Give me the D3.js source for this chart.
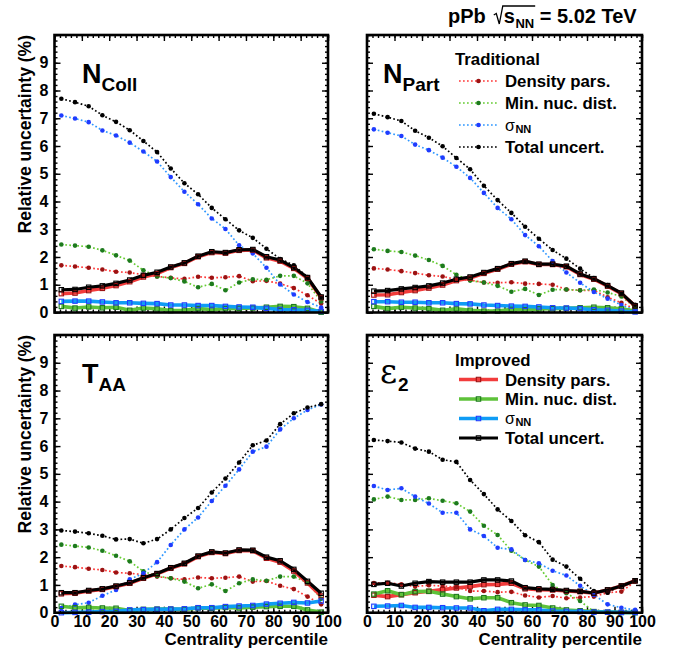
<!DOCTYPE html>
<html><head><meta charset="utf-8">
<script src="https://cdn.jsdelivr.net/npm/d3@7"></script>
<style>body{margin:0;background:#fff}svg{display:block}</style>
</head><body>
<svg id="c" width="681" height="650"></svg>
<script>
// ---------------- data ----------------
const centrality = [2.5,7.5,12.5,17.5,22.5,27.5,32.5,37.5,42.5,47.5,52.5,57.5,62.5,67.5,72.5,77.5,82.5,87.5,92.5,97.5];
const xTickValues = [0,10,20,30,40,50,60,70,80,90,100];
const yTickValues = [0,1,2,3,4,5,6,7,8,9,10];
const yTickLabels = ["0","1","2","3","4","5","6","7","8","9",""];

// N_Coll
const ncollTradDensity = [1.70,1.66,1.61,1.55,1.47,1.44,1.36,1.30,1.25,1.21,1.29,1.25,1.27,1.31,1.13,1.14,1.04,0.88,0.62,0.32];
const ncollTradMinNuc  = [2.45,2.41,2.37,2.24,2.06,1.87,1.52,1.30,1.24,1.12,0.91,1.03,0.80,1.08,1.20,1.18,1.32,1.32,1.05,0.40];
const ncollTradSigma   = [7.10,6.99,6.86,6.56,6.38,6.12,5.80,5.44,4.88,4.35,3.90,3.39,3.01,2.42,2.13,1.61,1.01,0.65,0.38,0.18];
const ncollTradTotal   = [7.70,7.58,7.43,7.11,6.87,6.57,6.18,5.78,5.19,4.66,4.26,3.77,3.36,2.96,2.69,2.30,1.93,1.70,1.28,0.56];
const ncollImpDensity  = [0.68,0.70,0.79,0.87,0.97,1.11,1.28,1.40,1.62,1.77,2.01,2.16,2.14,2.24,2.25,1.97,1.85,1.59,1.23,0.53];
const ncollImpMinNuc   = [0.22,0.16,0.20,0.17,0.19,0.08,0.16,0.13,0.07,0.08,0.14,0.11,0.14,0.15,0.16,0.19,0.22,0.21,0.15,0.01];
const ncollImpSigma    = [0.40,0.41,0.41,0.38,0.35,0.35,0.33,0.32,0.27,0.27,0.25,0.25,0.22,0.20,0.19,0.15,0.11,0.10,0.08,0.04];
const ncollImpTotal    = [0.82,0.83,0.91,0.96,1.05,1.17,1.34,1.45,1.64,1.79,2.03,2.19,2.16,2.26,2.27,2.01,1.89,1.62,1.26,0.56];

// N_Part
const npartTradDensity = [1.59,1.55,1.49,1.42,1.34,1.30,1.19,1.17,1.08,1.07,1.09,1.04,1.03,1.00,0.83,0.80,0.80,0.55,0.35,0.12];
const npartTradMinNuc  = [2.28,2.22,2.18,2.05,1.89,1.68,1.36,1.15,1.08,0.96,0.75,0.85,0.63,0.82,0.83,0.80,0.83,0.72,0.58,0.18];
const npartTradSigma   = [6.60,6.48,6.36,6.05,5.85,5.58,5.25,4.85,4.31,3.77,3.36,2.79,2.39,1.85,1.44,1.07,0.74,0.50,0.27,0.07];
const npartTradTotal   = [7.16,7.04,6.90,6.55,6.30,5.99,5.57,5.16,4.57,4.05,3.59,3.09,2.66,2.25,1.94,1.58,1.24,0.99,0.69,0.28];
const npartImpDensity  = [0.63,0.64,0.72,0.79,0.88,0.99,1.15,1.24,1.41,1.56,1.74,1.83,1.73,1.73,1.65,1.37,1.20,0.95,0.68,0.23];
const npartImpMinNuc   = [0.22,0.14,0.19,0.16,0.14,0.08,0.13,0.08,0.05,0.05,0.11,0.10,0.13,0.14,0.15,0.17,0.19,0.17,0.13,0.05];
const npartImpSigma    = [0.39,0.39,0.37,0.37,0.35,0.35,0.32,0.31,0.27,0.25,0.23,0.22,0.20,0.17,0.16,0.14,0.10,0.08,0.05,0.02];
const npartImpTotal    = [0.77,0.79,0.85,0.90,0.96,1.06,1.20,1.28,1.44,1.58,1.76,1.85,1.74,1.74,1.67,1.39,1.22,0.97,0.70,0.24];

// T_AA
const taaTradDensity = [1.68,1.64,1.58,1.54,1.45,1.42,1.37,1.30,1.24,1.20,1.27,1.24,1.26,1.30,1.12,1.14,0.97,0.85,0.58,0.30];
const taaTradMinNuc  = [2.45,2.40,2.35,2.23,2.05,1.85,1.49,1.32,1.24,1.12,0.88,1.02,0.78,1.06,1.20,1.15,1.30,1.30,1.08,0.50];
const taaTradSigma   = [0.17,0.29,0.36,0.61,0.82,1.20,1.42,1.82,2.44,3.00,3.43,4.02,4.57,5.16,5.80,5.98,6.60,7.00,7.30,7.50];
const taaTradTotal   = [2.96,2.92,2.86,2.77,2.64,2.65,2.50,2.65,3.00,3.41,3.77,4.33,4.83,5.41,6.03,6.20,6.79,7.18,7.39,7.51];
const taaImpDensity  = [0.68,0.70,0.78,0.84,0.94,1.06,1.24,1.40,1.60,1.76,2.02,2.17,2.13,2.24,2.23,1.96,1.82,1.50,1.07,0.60];
const taaImpMinNuc   = [0.23,0.18,0.19,0.17,0.16,0.08,0.12,0.13,0.13,0.12,0.17,0.16,0.19,0.17,0.20,0.22,0.23,0.23,0.10,0.02];
const taaImpSigma    = [0.00,0.01,0.02,0.04,0.05,0.10,0.11,0.12,0.13,0.14,0.18,0.18,0.22,0.24,0.26,0.31,0.34,0.37,0.35,0.42];
const taaImpTotal    = [0.72,0.72,0.80,0.86,0.96,1.08,1.26,1.41,1.62,1.78,2.04,2.19,2.15,2.26,2.25,2.00,1.87,1.56,1.13,0.70];

// epsilon_2
const epsTradDensity = [1.07,1.08,1.02,0.94,0.99,0.96,0.92,0.78,0.78,0.74,0.75,0.62,0.55,0.60,0.52,0.55,0.58,0.72,0.76,1.12];
const epsTradMinNuc  = [4.08,4.18,4.06,4.06,4.12,4.03,3.94,3.64,3.13,2.80,2.23,1.90,1.66,1.00,0.70,0.42,0.04,0.01,0.00,0.00];
const epsTradSigma   = [4.56,4.42,4.48,4.18,3.93,3.60,3.60,3.00,2.76,2.34,2.28,1.90,1.78,1.51,1.34,0.97,0.64,0.30,0.18,0.10];
const epsTradTotal   = [6.22,6.18,6.13,5.91,5.80,5.51,5.43,4.78,4.27,3.72,3.30,2.79,2.54,1.91,1.66,1.22,0.78,0.72,0.98,1.14];
const epsImpDensity  = [0.63,0.58,0.65,0.72,0.77,0.83,0.89,0.94,1.01,1.02,1.06,0.86,0.83,0.82,0.78,0.76,0.70,0.82,0.96,1.15];
const epsImpMinNuc   = [0.67,0.79,0.65,0.76,0.77,0.67,0.58,0.50,0.54,0.54,0.36,0.28,0.26,0.17,0.10,0.07,0.04,0.02,0.01,0.00];
const epsImpSigma    = [0.23,0.24,0.26,0.19,0.19,0.18,0.17,0.17,0.07,0.12,0.12,0.10,0.10,0.06,0.05,0.04,0.02,0.02,0.01,0.01];
const epsImpTotal    = [1.02,1.06,0.96,1.06,1.12,1.10,1.10,1.10,1.18,1.18,1.14,0.90,0.86,0.84,0.80,0.77,0.71,0.82,0.96,1.15];

const sourceNames = ["Density pars.","Min. nuc. dist.","σNN","Total uncert."];

// ---------------- styling / layout ----------------
const FONT = '"Liberation Sans", Arial, Helvetica, sans-serif';
const colors = {
  tradLine: ["#ff3838","#66cc33","#2f97ff","#000000"],
  impLine:  ["#f23c3c","#5ec23a","#0f9cf5","#000000"],
  mark:     ["#9c1212","#1d7a1d","#1f3cff","#000000"]
};

const panels = [
  {x0:54.5,x1:328,y0:35,y1:312.5,yLab:true,xLab:false,
   trad:[ncollTradDensity,ncollTradMinNuc,ncollTradSigma,ncollTradTotal],
   imp:[ncollImpDensity,ncollImpMinNuc,ncollImpSigma,ncollImpTotal],
   label:{main:"N",sub:"Coll",serif:false,dx:27.5}},
  {x0:367,x1:642,y0:35,y1:312.5,yLab:false,xLab:false,
   trad:[npartTradDensity,npartTradMinNuc,npartTradSigma,npartTradTotal],
   imp:[npartImpDensity,npartImpMinNuc,npartImpSigma,npartImpTotal],
   label:{main:"N",sub:"Part",serif:false,dx:16}, legend:"Traditional"},
  {x0:54.5,x1:328,y0:335,y1:612.7,yLab:true,xLab:true,
   trad:[taaTradDensity,taaTradMinNuc,taaTradSigma,taaTradTotal],
   imp:[taaImpDensity,taaImpMinNuc,taaImpSigma,taaImpTotal],
   label:{main:"T",sub:"AA",serif:false,dx:27.5}},
  {x0:367,x1:642,y0:335,y1:612.7,yLab:false,xLab:true,
   trad:[epsTradDensity,epsTradMinNuc,epsTradSigma,epsTradTotal],
   imp:[epsImpDensity,epsImpMinNuc,epsImpSigma,epsImpTotal],
   label:{main:"ε",sub:"2",serif:true,dx:13}, legend:"Improved"}
];

const svg = d3.select("#c");
svg.append("rect").attr("width",681).attr("height",650).attr("fill","#fff");

function styleAxis(g, labels){
  g.select(".domain").remove();
  g.selectAll(".tick line").attr("stroke","#000").attr("stroke-width",1.4);
  g.selectAll(".tick text").attr("font-family",FONT).attr("font-weight","bold")
    .attr("font-size",16).attr("fill","#000");
  if(!labels) g.selectAll(".tick text").remove();
}

panels.forEach(p=>{
  const x = d3.scaleLinear().domain([0,100]).range([p.x0,p.x1]);
  const y = d3.scaleLinear().domain([0,10]).range([p.y1,p.y0]);
  const g = svg.append("g");

  // minor ticks
  const xMinor = x.ticks(50), yMinor = y.ticks(50);
  [[d3.axisBottom(x),p.y1],[d3.axisTop(x),p.y0]].forEach(([ax,yy])=>{
    const a = g.append("g").attr("transform",`translate(0,${yy})`)
      .call(ax.tickValues(xMinor).tickSize(-3).tickFormat(""));
    styleAxis(a,false);
  });
  [[d3.axisLeft(y),p.x0],[d3.axisRight(y),p.x1]].forEach(([ax,xx])=>{
    const a = g.append("g").attr("transform",`translate(${xx},0)`)
      .call(ax.tickValues(yMinor).tickSize(-3).tickFormat(""));
    styleAxis(a,false);
  });
  // major ticks
  const bx = g.append("g").attr("transform",`translate(0,${p.y1})`)
    .call(d3.axisBottom(x).tickValues(xTickValues).tickSize(-6).tickPadding(3).tickFormat(d3.format("d")));
  styleAxis(bx,p.xLab);
  const tx = g.append("g").attr("transform",`translate(0,${p.y0})`)
    .call(d3.axisTop(x).tickValues(xTickValues).tickSize(-6).tickFormat(""));
  styleAxis(tx,false);
  const ly = g.append("g").attr("transform",`translate(${p.x0},0)`)
    .call(d3.axisLeft(y).tickValues(yTickValues).tickSize(-6).tickPadding(6)
      .tickFormat((d,i)=>yTickLabels[i]));
  styleAxis(ly,p.yLab);
  const ry = g.append("g").attr("transform",`translate(${p.x1},0)`)
    .call(d3.axisRight(y).tickValues(yTickValues).tickSize(-6).tickFormat(""));
  styleAxis(ry,false);

  const line = d3.line().x((d,i)=>x(centrality[i])).y(d=>y(d));

  // traditional dotted lines
  p.trad.forEach((s,k)=>{
    g.append("path").datum(s).attr("d",line).attr("fill","none")
      .attr("stroke",colors.tradLine[k]).attr("stroke-width",1.7)
      .attr("stroke-dasharray","1.7,2.3");
  });
  // improved thick lines
  p.imp.forEach((s,k)=>{
    g.append("path").datum(s).attr("d",line).attr("fill","none")
      .attr("stroke",colors.impLine[k]).attr("stroke-width",k===3?3.2:3.6)
      .attr("stroke-linejoin","round");
  });
  // traditional markers
  p.trad.forEach((s,k)=>{
    g.append("g").selectAll("circle").data(s).join("circle")
      .attr("cx",(d,i)=>x(centrality[i])).attr("cy",d=>y(d)).attr("r",2.3)
      .attr("fill",colors.mark[k]);
  });
  // improved markers (open squares)
  p.imp.forEach((s,k)=>{
    g.append("g").selectAll("rect").data(s).join("rect")
      .attr("x",(d,i)=>x(centrality[i])-2.2).attr("y",d=>y(d)-2.2)
      .attr("width",4.4).attr("height",4.4).attr("fill","none")
      .attr("stroke",colors.mark[k]).attr("stroke-width",1.1);
  });

  // frame
  g.append("rect").attr("x",p.x0).attr("y",p.y0).attr("width",p.x1-p.x0).attr("height",p.y1-p.y0)
    .attr("fill","none").attr("stroke","#000").attr("stroke-width",2.6);

  // panel label
  const lx = p.x0 + p.label.dx, lyb = p.y0 + 48;
  const mainT = g.append("text").attr("x",lx).attr("y",lyb)
    .attr("font-family",p.label.serif?'"DejaVu Serif","Liberation Serif",serif':FONT)
    .attr("font-weight",p.label.serif?"normal":"bold")
    .attr("font-size",p.label.serif?33:27).text(p.label.main);
  const mw = mainT.node().getComputedTextLength();
  g.append("text").attr("x",lx+mw+(p.label.serif?1:0)).attr("y",lyb+8)
    .attr("font-family",FONT).attr("font-weight","bold").attr("font-size",19).text(p.label.sub);

  // legend
  if(p.legend){
    const trad = p.legend==="Traditional";
    const y0 = trad ? 59 : 360, step = trad ? 22 : 19.5;
    const fs = 16.8;
    g.append("text").attr("x",455).attr("y",y0+6).attr("font-family",FONT)
      .attr("font-weight","bold").attr("font-size",fs).text(p.legend);
    sourceNames.forEach((name,k)=>{
      const cy = y0 + step*(k+1);
      const l = g.append("line").attr("x1",459).attr("x2",498).attr("y1",cy).attr("y2",cy);
      if(trad){
        l.attr("stroke",colors.tradLine[k]).attr("stroke-width",1.7).attr("stroke-dasharray","1.7,2.3");
        g.append("circle").attr("cx",478.5).attr("cy",cy).attr("r",2.3).attr("fill",colors.mark[k]);
      } else {
        l.attr("stroke",colors.impLine[k]).attr("stroke-width",k===3?3.2:3.6);
        g.append("rect").attr("x",476.3).attr("y",cy-2.2).attr("width",4.4).attr("height",4.4)
          .attr("fill","none").attr("stroke",colors.mark[k]).attr("stroke-width",1.1);
      }
      if(k===2){
        const t = g.append("text").attr("x",505).attr("y",cy+5.5).attr("font-family",FONT)
          .attr("font-size",16).text("σ");
        const w = t.node().getComputedTextLength();
        g.append("text").attr("x",505+w+0.5).attr("y",cy+7.8).attr("font-family",FONT)
          .attr("font-weight","bold").attr("font-size",11).text("NN");
      } else {
        g.append("text").attr("x",505).attr("y",cy+6).attr("font-family",FONT)
          .attr("font-weight","bold").attr("font-size",fs).text(name);
      }
    });
  }
});

// axis titles
[35,335].forEach(yt=>{
  svg.append("text").attr("transform",`translate(31,${yt}) rotate(-90)`)
    .attr("text-anchor","end").attr("font-family",FONT).attr("font-weight","bold")
    .attr("font-size",17.5).text("Relative uncertainty (%)");
});
[328,642].forEach(xt=>{
  svg.append("text").attr("x",xt).attr("y",645).attr("text-anchor","end")
    .attr("font-family",FONT).attr("font-weight","bold").attr("font-size",17)
    .text("Centrality percentile");
});

// title: pPb sqrt(s_NN) = 5.02 TeV
(function(){
  const base = 23, fs = 20;
  let cx = 448;
  const t1 = svg.append("text").attr("x",cx).attr("y",base).attr("font-family",FONT)
    .attr("font-weight","bold").attr("font-size",fs).text("pPb");
  cx += t1.node().getComputedTextLength() + 8;
  const r0 = cx;
  cx += 10;
  const t2 = svg.append("text").attr("x",cx).attr("y",base).attr("font-family",FONT)
    .attr("font-weight","bold").attr("font-size",fs).text("s");
  cx += t2.node().getComputedTextLength() + 0.5;
  const t3 = svg.append("text").attr("x",cx).attr("y",base+5).attr("font-family",FONT)
    .attr("font-weight","bold").attr("font-size",13).text("NN");
  cx += t3.node().getComputedTextLength();
  const rEnd = cx + 1;
  svg.append("path").attr("d",`M${r0},${base-8} L${r0+2.5},${base-9.5} L${r0+5.5},${base+1} L${r0+9},${base-17} L${rEnd},${base-17}`)
    .attr("fill","none").attr("stroke","#000").attr("stroke-width",1.3);
  svg.append("text").attr("x",cx).attr("y",base).attr("font-family",FONT)
    .attr("font-weight","bold").attr("font-size",fs).attr("xml:space","preserve").text(" = 5.02 TeV");
})();
</script>
</body></html>
